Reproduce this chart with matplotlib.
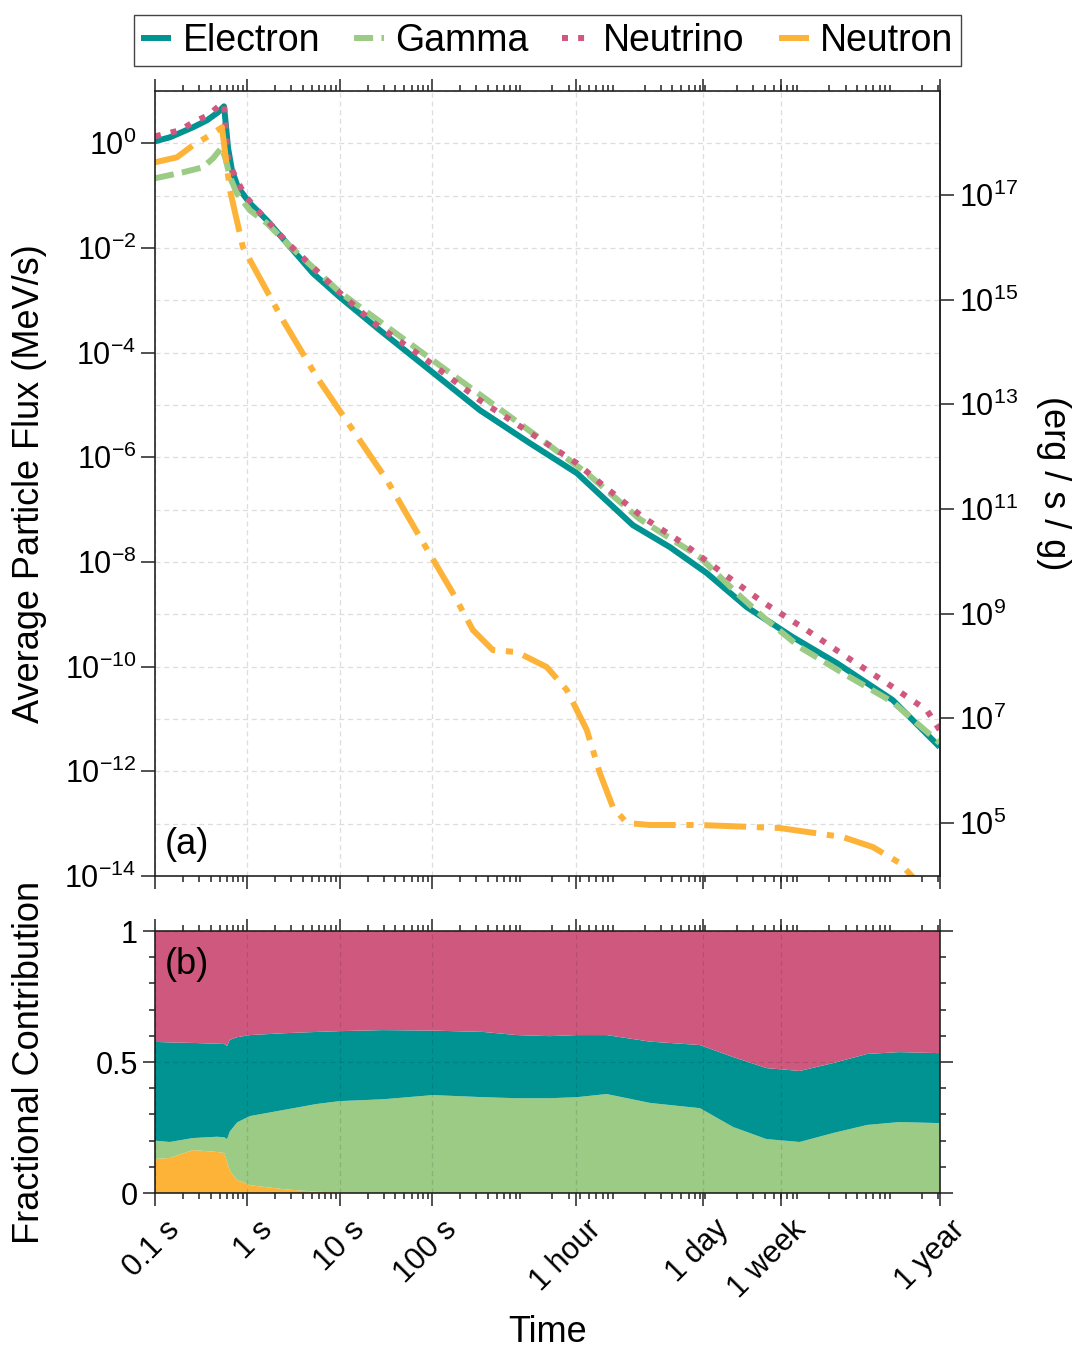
import numpy as np
import matplotlib
matplotlib.use("Agg")
import matplotlib.pyplot as plt
import matplotlib.transforms as mtransforms
from matplotlib.ticker import LogLocator, FixedLocator, NullFormatter, NullLocator, MultipleLocator

plt.rcParams['font.family'] = ['Liberation Sans', 'DejaVu Sans']
plt.rcParams['mathtext.default'] = 'regular'

# -------------------------
# data: log10(time / s), log10(flux / MeV s^-1)
# -------------------------
e_logt = [-1.0, -0.838, -0.589, -0.437, -0.318, -0.253, -0.232, -0.210, -0.167, -0.102, 0.028,
          0.212, 0.429, 0.710, 1.002, 1.435, 1.976, 2.517, 3.058, 3.567, 4.173, 4.574, 4.974,
          5.407, 5.905, 6.381, 6.987, 7.496]
e_logy = [0.038, 0.115, 0.306, 0.44, 0.592, 0.707, 0.344, -0.076, -0.516, -0.84, -1.146,
          -1.471, -1.91, -2.483, -2.941, -3.572, -4.335, -5.099, -5.729, -6.302, -7.295, -7.715,
          -8.212, -8.862, -9.435, -9.931, -10.638, -11.536]

g_logt = [-1.0, -0.697, -0.481, -0.372, -0.275, -0.232, -0.188, -0.113, 0.028, 0.212, 0.439,
          1.002, 1.976, 3.091, 3.675, 4.249, 4.898, 5.299, 5.623, 5.981, 6.446, 6.987, 7.496]
g_logy = [-0.668, -0.554, -0.458, -0.287, -0.076, -0.325, -0.649, -0.955, -1.28, -1.528, -1.929,
          -2.846, -4.106, -5.539, -6.302, -7.181, -7.907, -8.594, -9.11, -9.626, -10.122,
          -10.676, -11.459]

nu_logt = [-1.0, -0.729, -0.589, -0.426, -0.286, -0.253, -0.232, -0.210, -0.113, -0.026, 0.082,
           0.439, 0.970, 1.359, 1.944, 2.517, 3.134, 3.567, 3.848, 4.281, 4.714, 5.147, 5.580,
           6.056, 6.489, 6.922, 7.355, 7.496]
nu_logy = [0.134, 0.248, 0.401, 0.535, 0.745, 0.76, 0.191, -0.325, -0.707, -0.993, -1.222,
           -1.91, -2.808, -3.419, -4.145, -4.909, -5.615, -6.112, -6.532, -7.143, -7.64, -8.212,
           -8.766, -9.301, -9.817, -10.313, -10.829, -11.21]

n_logt = [-1.0, -0.762, -0.589, -0.405, -0.275, -0.221, -0.188, -0.156, -0.048, 0.136, 0.385,
          0.753, 1.143, 1.511, 1.868, 2.225, 2.442, 2.658, 2.918, 3.242, 3.459, 3.675, 3.816,
          3.957, 4.108, 4.357, 4.898, 5.764, 6.446, 6.771, 7.063, 7.203, 7.387]
n_logy = [-0.363, -0.267, -0.038, 0.153, 0.306, -0.458, -0.898, -1.146, -1.986, -2.578, -3.38,
          -4.469, -5.481, -6.436, -7.525, -8.594, -9.301, -9.683, -9.721, -10.008, -10.447,
          -11.211, -12.032, -12.682, -12.987, -13.025, -13.025, -13.083, -13.255, -13.446,
          -13.751, -14.02, -14.46]

# fractional contributions (panel b)
f_logt = [-1.0, -0.84, -0.59, -0.33, -0.25, -0.22, -0.19, -0.11, 0.03, 0.39, 0.75, 1.0, 1.47,
          2.01, 2.55, 2.92, 3.27, 3.57, 3.89, 4.36, 4.90, 5.26, 5.62, 5.98, 6.34, 6.71, 7.06, 7.5]
frac_neutron = [0.13, 0.134, 0.164, 0.157, 0.153, 0.12, 0.085, 0.05, 0.03, 0.015, 0.005, 0.002,
                0, 0, 0, 0, 0, 0, 0, 0, 0, 0, 0, 0, 0, 0, 0, 0]
frac_gamma = [0.07, 0.061, 0.046, 0.058, 0.060, 0.086, 0.15, 0.22, 0.264, 0.302, 0.335, 0.349,
              0.358, 0.374, 0.366, 0.362, 0.362, 0.366, 0.378, 0.344, 0.324, 0.252, 0.206,
              0.195, 0.229, 0.26, 0.271, 0.267]
frac_electron = [0.377, 0.380, 0.363, 0.355, 0.356, 0.355, 0.35, 0.325, 0.309, 0.293, 0.275,
                 0.267, 0.264, 0.246, 0.249, 0.241, 0.237, 0.237, 0.225, 0.234, 0.241, 0.267,
                 0.271, 0.271, 0.267, 0.271, 0.267, 0.267]
frac_neutrino = [0.423, 0.425, 0.427, 0.43, 0.431, 0.439, 0.415, 0.405, 0.397, 0.39, 0.385,
                 0.382, 0.378, 0.38, 0.385, 0.397, 0.401, 0.397, 0.397, 0.422, 0.435, 0.481,
                 0.523, 0.534, 0.504, 0.469, 0.462, 0.466]

time_ticks = [0.1, 1, 10, 100, 3600, 86400, 604800, 31557600]
time_labels = ["0.1 s", "1 s", "10 s", "100 s", "1 hour", "1 day", "1 week", "1 year"]

# MeV/s per nucleon -> erg/s/g
conv = 1.602e-6 * 6.022e23

c_e, c_g, c_nu, c_n = "#009392", "#9ccb86", "#cf597e", "#fdb338"

# -------------------------
# figure
# -------------------------
fig = plt.figure(figsize=(10.9, 13.66), dpi=100)
ax = fig.add_axes([0.1422, 0.3587, 0.7202, 0.5747])
axb = fig.add_axes([0.1422, 0.1266, 0.7202, 0.1918])

lw = 4.3
ax.plot(10**np.array(e_logt), 10**np.array(e_logy), color=c_e, lw=lw, label="Electron",
        solid_capstyle="butt")
ax.plot(10**np.array(g_logt), 10**np.array(g_logy), color=c_g, lw=lw, label="Gamma",
        dashes=(3.2, 1.4), dash_capstyle="butt")
ax.plot(10**np.array(nu_logt), 10**np.array(nu_logy), color=c_nu, lw=lw, label="Neutrino",
        dashes=(1.0, 1.7), dash_capstyle="butt")
ax.plot(10**np.array(n_logt), 10**np.array(n_logy), color=c_n, lw=lw, label="Neutron",
        dashes=(7.0, 1.8, 1.2, 1.8), dash_capstyle="butt")

for a in (ax, axb):
    a.set_xscale("log")
    a.set_xlim(0.1, 31557600)
    a.xaxis.set_major_locator(FixedLocator(time_ticks))
    a.xaxis.set_minor_locator(LogLocator(base=10, subs=np.arange(2, 10), numticks=30))
    a.xaxis.set_minor_formatter(NullFormatter())
    a.tick_params(which="both", direction="out", top=True, width=1.1, colors="#222222",
                  labelcolor="black")
    a.tick_params(which="major", length=9)
    a.tick_params(which="minor", length=4.5)
    for s in a.spines.values():
        s.set_color("#222222")
        s.set_linewidth(1.2)

# top panel
ax.set_yscale("log")
ax.set_ylim(1e-14, 10)
ax.yaxis.set_major_locator(FixedLocator([10.0**k for k in range(-14, 1, 2)]))
ax.yaxis.set_minor_locator(FixedLocator([10.0**k for k in range(-13, 2, 2)]))
ax.yaxis.set_minor_formatter(NullFormatter())
ax.tick_params(axis="y", which="minor", length=0)
ax.tick_params(axis="y", which="major", length=10, labelsize=22)
ax.tick_params(axis="x", labelbottom=False)
ax.set_axisbelow(True)
ax.grid(True, which="both", color="#dddddd", ls=(0, (4, 3)), lw=0.9)
ax.xaxis.grid(False, which="minor")
ax.set_ylabel("Average Particle Flux (MeV/s)", fontsize=26)
ax.yaxis.set_label_coords(-0.137, 0.5)
ax.text(0.012, 0.018, "(a)", transform=ax.transAxes, fontsize=26, va="bottom", ha="left")

sec = ax.secondary_yaxis("right", functions=(lambda y: y * conv, lambda y: y / conv))
sec.yaxis.set_major_locator(FixedLocator([10.0**k for k in range(5, 18, 2)]))
sec.yaxis.set_minor_locator(NullLocator())
sec.tick_params(axis="y", which="major", length=10, width=1.1, labelsize=22, colors="#222222",
                labelcolor="black")
sec.spines["right"].set_color("#222222")
sec.spines["right"].set_linewidth(1.2)
sec.set_ylabel("(erg / s / g)", fontsize=26, rotation=-90, labelpad=38)

# bottom panel
axb.stackplot(10**np.array(f_logt), frac_neutron, frac_gamma, frac_electron, frac_neutrino,
              colors=[c_n, c_g, c_e, c_nu], lw=0)
axb.set_ylim(0, 1)
axb.yaxis.set_major_locator(FixedLocator([0, 0.5, 1]))
axb.yaxis.set_major_formatter(plt.FuncFormatter(lambda v, p: {0: "0", 0.5: "0.5", 1: "1"}[v]))
axb.yaxis.set_minor_locator(MultipleLocator(0.1))
axb.tick_params(axis="y", which="both", right=True, labelsize=22)
axb.set_axisbelow(False)
axb.grid(True, which="major", color="black", alpha=0.12, ls=(0, (4, 3)), lw=0.9)
axb.set_xticklabels(time_labels, rotation=45, ha="right", rotation_mode="anchor", fontsize=22)
shift = mtransforms.ScaledTranslation(10 / 100, -4 / 100, fig.dpi_scale_trans)
for lab in axb.get_xticklabels():
    lab.set_transform(lab.get_transform() + shift)
axb.set_ylabel("Fractional Contribution", fontsize=26)
axb.yaxis.set_label_coords(-0.137, 0.5)
axb.set_xlabel("Time", fontsize=26, labelpad=8)
axb.text(0.012, 0.94, "(b)", transform=axb.transAxes, fontsize=26, va="top", ha="left")

fig.legend(loc="center", bbox_to_anchor=(0.502, 0.97), ncol=4, fontsize=27, frameon=True,
           fancybox=False, edgecolor="#444444", framealpha=1, handlelength=0.8,
           columnspacing=0.9, handletextpad=0.3, borderpad=0.2)

fig.savefig("out.png", dpi=100)
